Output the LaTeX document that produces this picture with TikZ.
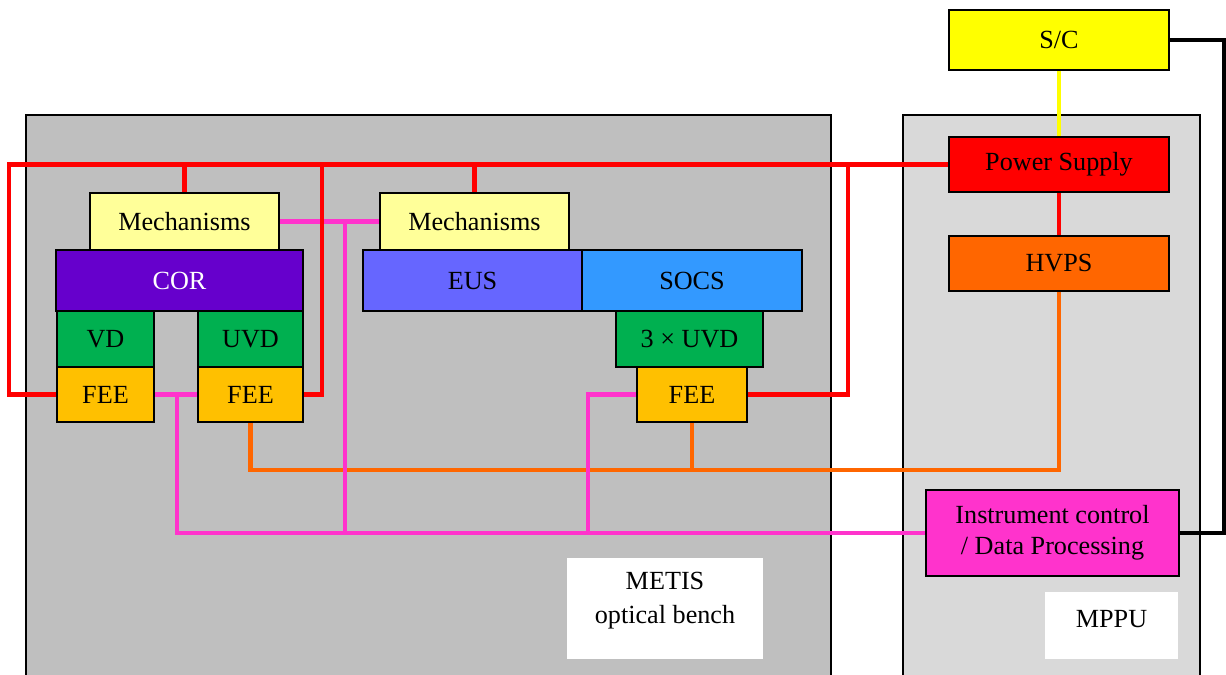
\documentclass[tikz,border=0pt]{standalone}
\usepackage{fontspec}
\setmainfont{Liberation Serif}
\usepackage{tikz}
\usepackage{xcolor}
\usetikzlibrary{
    arrows.meta,
    positioning,
    calc
}
\definecolor{benchGray}{RGB}{191,191,191}
\definecolor{mppuGray}{RGB}{217,217,217}
\definecolor{scYellow}{RGB}{255,255,0}
\definecolor{mechYellow}{RGB}{255,255,153}
\definecolor{corPurple}{RGB}{102,0,204}
\definecolor{detGreen}{RGB}{0,176,80}
\definecolor{feeAmber}{RGB}{255,192,0}
\definecolor{eusBlue}{RGB}{102,102,255}
\definecolor{socsBlue}{RGB}{51,153,255}
\definecolor{hvOrange}{RGB}{255,102,0}
\definecolor{icMagenta}{RGB}{255,51,204}
\tikzset{
  box/.style     = {draw, line width=1.1pt, inner sep=0pt, align=center,
                    font=\fontsize{14.9}{17.5}\selectfont},
  bench/.style   = {draw, line width=1.1pt},
  redwire/.style = {draw=red, line width=2.6pt},
  pinkwire/.style= {draw=icMagenta, line width=2.3pt},
  orawire/.style = {draw=hvOrange, line width=2.3pt},
  yelwire/.style = {draw=scYellow, line width=2pt},
  blkwire/.style = {draw=black, line width=2pt}
}

\begin{document}
\begin{tikzpicture}[x=0.02cm, y=-0.02cm]
  \useasboundingbox (0,0) rectangle (1226,675);

  % Benches
  \filldraw[bench, fill=benchGray] (26,115) rectangle (831,690);
  \filldraw[bench, fill=mppuGray] (903,115) rectangle (1200,690);
  \fill[white] (567,558) rectangle (763,659);
  \fill[white] (1045,592) rectangle (1178,659);
  \node[box, draw=none, font=\fontsize{14.9}{19.3}\selectfont] (metis) at (665,601) {METIS\\optical bench};
  \node[box, draw=none] (mppu) at (1111.5,619) {MPPU};

  % Spacecraft side
  \node[box, fill=scYellow, minimum width=4.4cm, minimum height=1.2cm] (sc) at (1059,40) {S/C};
  \node[box, fill=red, minimum width=4.4cm, minimum height=1.1cm] (ps) at (1059,164.5) {Power Supply};
  \node[box, fill=hvOrange, minimum width=4.4cm, minimum height=1.1cm] (hvps) at (1059,263.5) {HVPS};
  \node[box, fill=icMagenta, minimum width=5.06cm, minimum height=1.72cm] (icdp) at (1052.5,533)
    {Instrument control\\/ Data Processing};

  % Coronagraph
  \node[box, fill=mechYellow, minimum width=3.78cm, minimum height=1.14cm] (mechcor) at (184.5,221.5) {Mechanisms};
  \node[box, fill=corPurple, text=white, minimum width=4.94cm, minimum height=1.22cm] (cor) at (179.5,280.5) {COR};
  \node[box, fill=detGreen, minimum width=1.94cm, minimum height=1.12cm] (vd) at (105.5,339) {VD};
  \node[box, fill=detGreen, minimum width=2.1cm, minimum height=1.12cm] (uvd) at (250.5,339) {UVD};
  \node[box, fill=feeAmber, minimum width=1.94cm, minimum height=1.1cm] (feevd) at (105.5,394.5) {FEE};
  \node[box, fill=feeAmber, minimum width=2.1cm, minimum height=1.1cm] (feeuvd) at (250.5,394.5) {FEE};

  % Spectrometer
  \node[box, fill=mechYellow, minimum width=3.78cm, minimum height=1.14cm] (mecheus) at (474.5,221.5) {Mechanisms};
  \node[box, fill=eusBlue, minimum width=4.38cm, minimum height=1.22cm] (eus) at (472.5,280.5) {EUS};
  \node[box, fill=socsBlue, minimum width=4.4cm, minimum height=1.22cm] (socs) at (692,280.5) {SOCS};
  \node[box, fill=detGreen, minimum width=2.94cm, minimum height=1.12cm] (uvd3) at (689.5,339) {3 × UVD};
  \node[box, fill=feeAmber, minimum width=2.2cm, minimum height=1.1cm] (feesocs) at (692,394.5) {FEE};

  % HV lines
  \draw[orawire] (hvps.south) |- (600,470) -| (feeuvd.south);
  \draw[orawire] (feesocs.south) -- (feesocs.south |- 0,470);

  % Data lines
  \coordinate (pinkL) at (177,533);
  \draw[pinkwire] (icdp.west) -- (pinkL) -- (pinkL |- feevd.east);
  \draw[pinkwire] (feevd.east) -- (feeuvd.west);
  \draw[pinkwire] (mechcor.east) -- (mecheus.west);
  \draw[pinkwire] (345,221.5) -- (345,533);
  \draw[pinkwire] (feesocs.west) -| (588,533);

  % Power lines
  \coordinate (redL) at (9,164.5);
  \draw[redwire] (feevd.west) -| (redL) -- (ps.west);
  \draw[redwire] (feeuvd.east) -| (322,164.5);
  \draw[redwire] (feesocs.east) -| (848,164.5);
  \draw[redwire] (mechcor.north) -- (mechcor.north |- ps.west);
  \draw[redwire] (mecheus.north) -- (mecheus.north |- ps.west);
  \draw[redwire] (ps) -- (hvps);
  \draw[yelwire] (sc) -- (ps);

  % Spacecraft link
  \draw[blkwire] (sc.east) -| (1224,300) |- (icdp.east);
\end{tikzpicture}
\end{document}
